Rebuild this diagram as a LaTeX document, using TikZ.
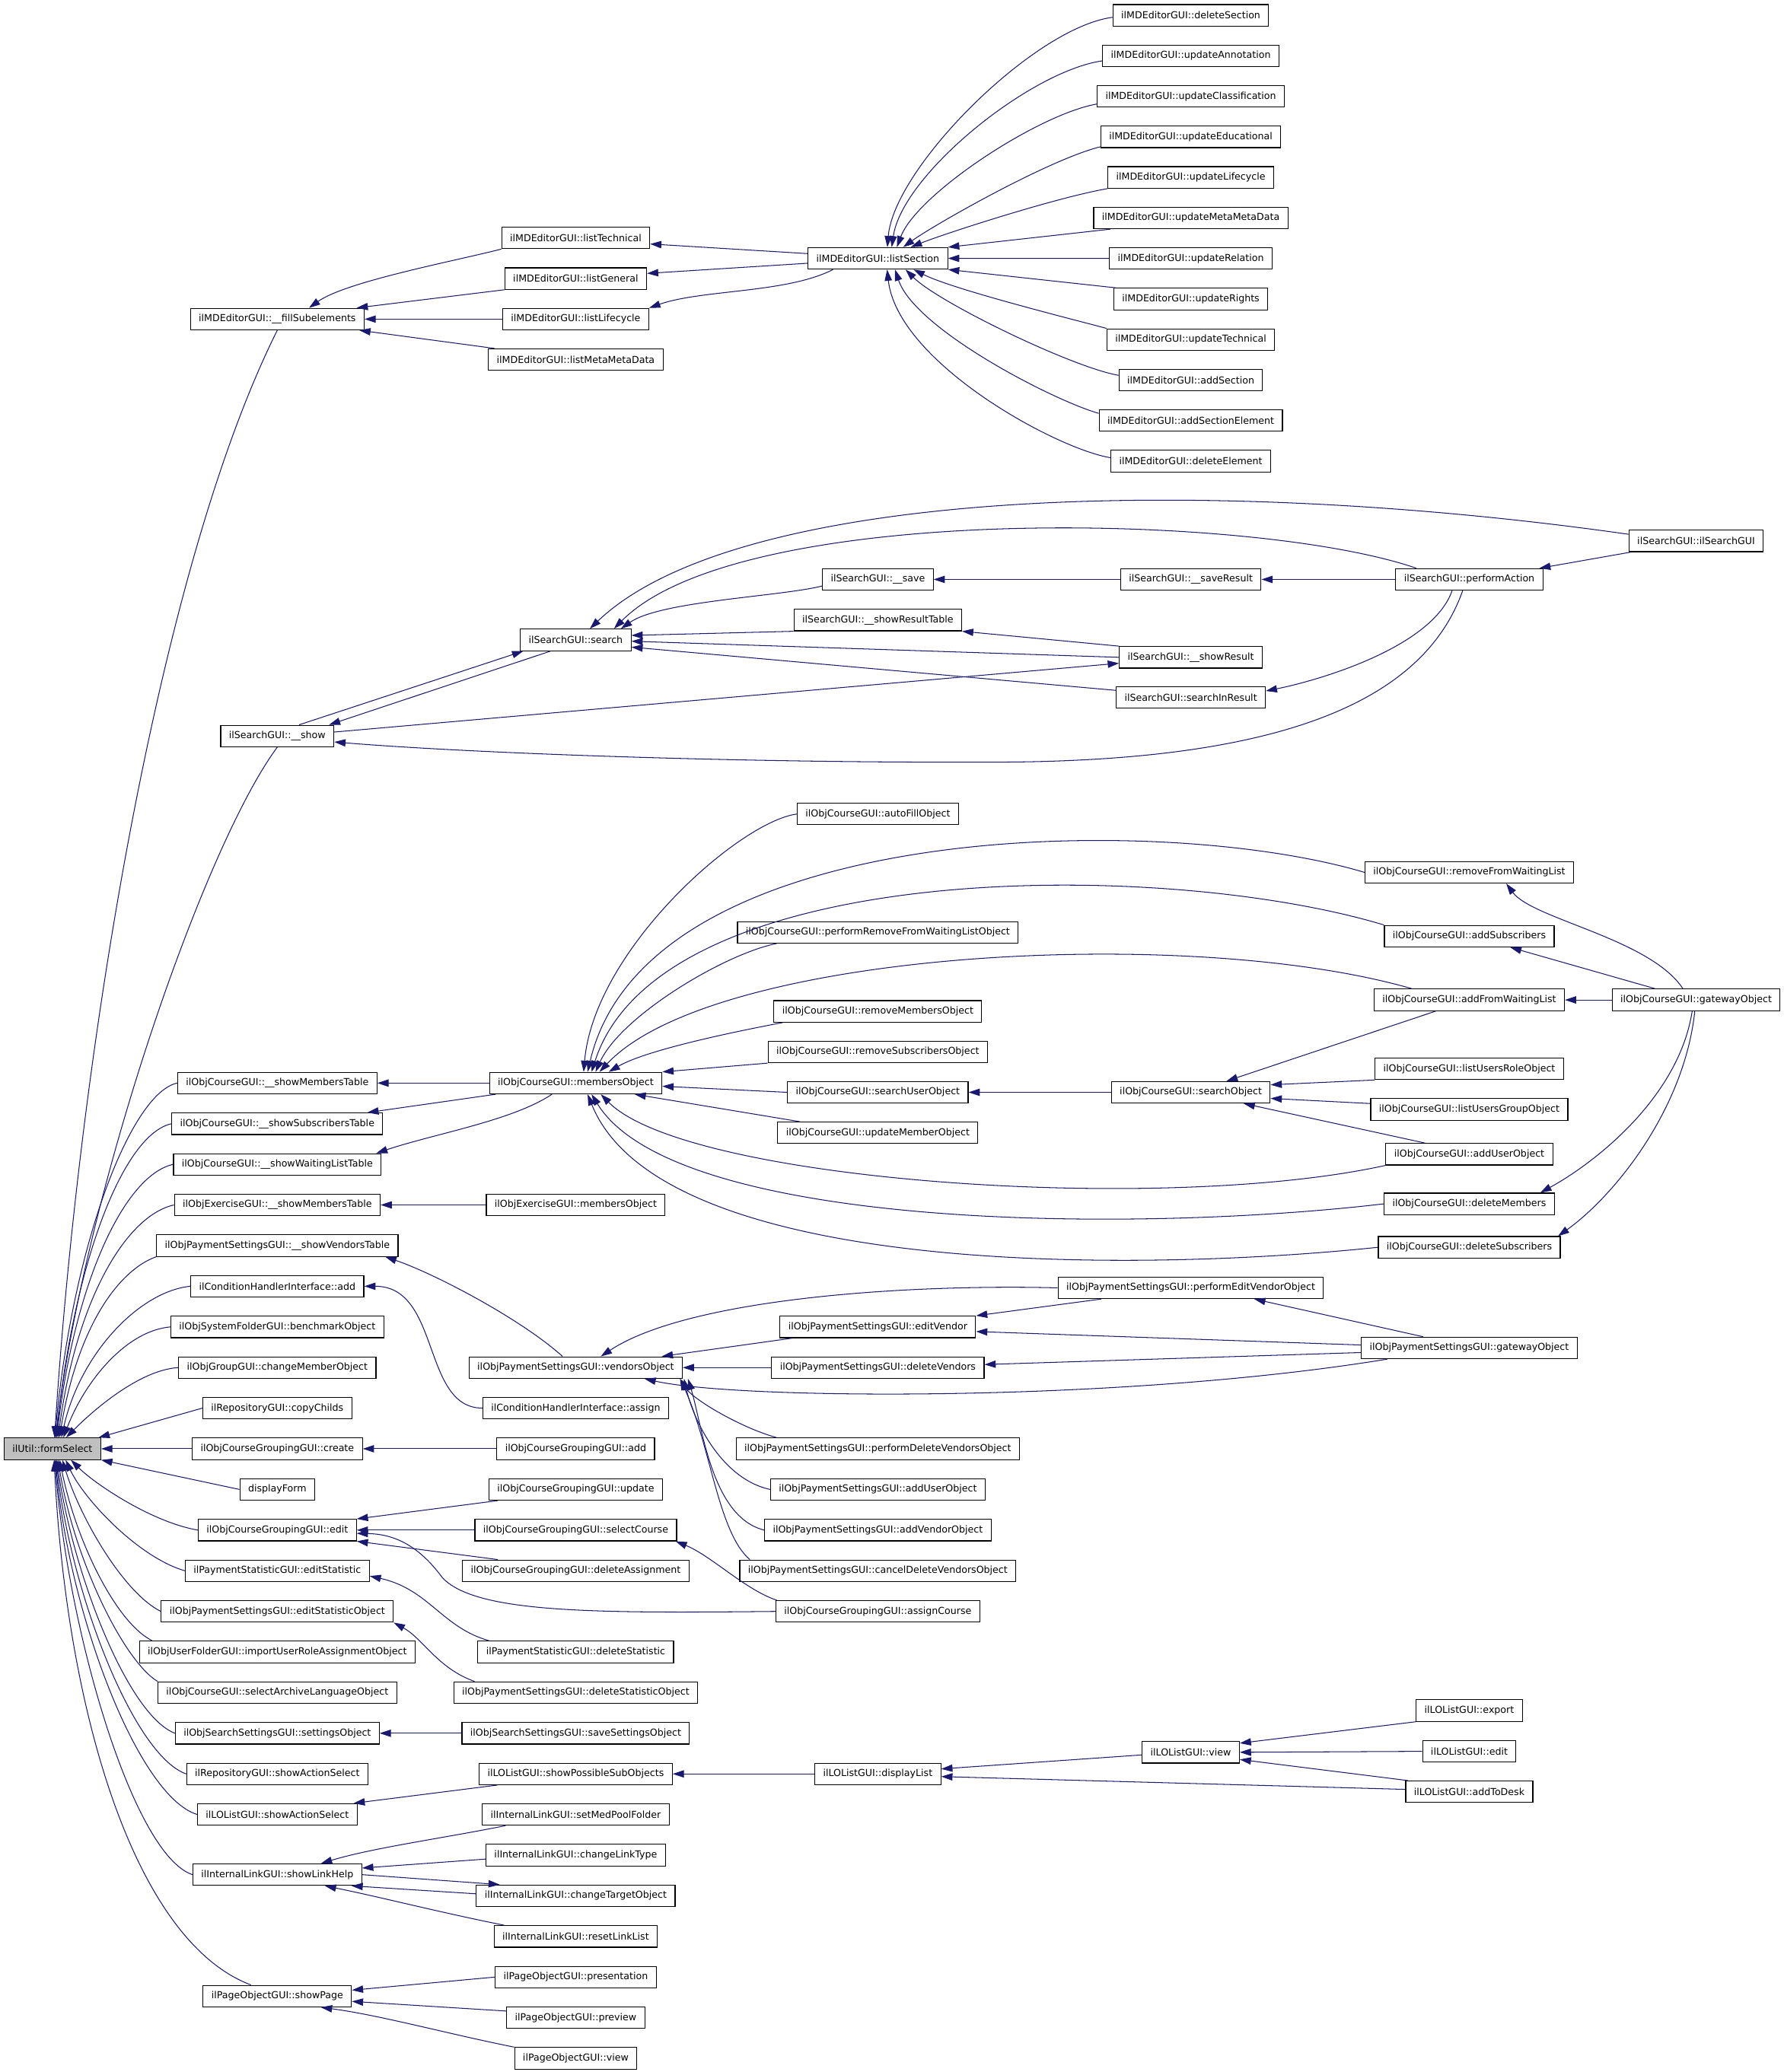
\documentclass[tikz,border=0pt]{standalone}
\usepackage{fontspec}
\setmainfont{DejaVu Sans}
\usetikzlibrary{arrows.meta,calc}
\definecolor{edgeblue}{RGB}{25,25,112}
\definecolor{rootgray}{RGB}{191,191,191}
\begin{document}
\begin{tikzpicture}[x=1pt,y=-1pt,
  fn/.style={draw=black,line width=0.65pt,fill=white,inner xsep=6.3pt,inner ysep=0pt,minimum height=16.3pt,font=\fontsize{7.27}{8.5}\selectfont},
  rootfn/.style={fn,fill=rootgray},
  cl/.style={draw=edgeblue,line width=0.6pt,-{Triangle[length=8.5pt,width=5.5pt]}}]
\fill[white] (0,0) rectangle (1351,1569.5);
\useasboundingbox (0,0) rectangle (1351,1569.5);
% ---------------- rank 0
\node[rootfn] (R) at (39.7,1097.4) {ilUtil::formSelect};
% ---------------- rank 1
\node[fn] (fS) at (210,241.7) {ilMDEditorGUI::\_\_fillSubelements};
\node[fn] (sh) at (210,557.5) {ilSearchGUI::\_\_show};
\node[fn] (sMT) at (210,820.4) {ilObjCourseGUI::\_\_showMembersTable};
\node[fn] (sST) at (210,851.2) {ilObjCourseGUI::\_\_showSubscribersTable};
\node[fn] (sWT) at (210,882) {ilObjCourseGUI::\_\_showWaitingListTable};
\node[fn] (eX) at (210,912.7) {ilObjExerciseGUI::\_\_showMembersTable};
\node[fn] (sVT) at (210,943.5) {ilObjPaymentSettingsGUI::\_\_showVendorsTable};
\node[fn] (cA) at (210,974.3) {ilConditionHandlerInterface::add};
\node[fn] (bO) at (210,1005.1) {ilObjSystemFolderGUI::benchmarkObject};
\node[fn] (cM) at (210,1035.9) {ilObjGroupGUI::changeMemberObject};
\node[fn] (cC) at (210,1066.6) {ilRepositoryGUI::copyChilds};
\node[fn] (cr) at (210,1097.4) {ilObjCourseGroupingGUI::create};
\node[fn] (dF) at (210,1128.2) {displayForm};
\node[fn] (ed) at (210,1159) {ilObjCourseGroupingGUI::edit};
\node[fn] (eS) at (210,1189.8) {ilPaymentStatisticGUI::editStatistic};
\node[fn] (eSO) at (210,1220.6) {ilObjPaymentSettingsGUI::editStatisticObject};
\node[fn] (iU) at (210,1251.3) {ilObjUserFolderGUI::importUserRoleAssignmentObject};
\node[fn] (sAL) at (210,1282.1) {ilObjCourseGUI::selectArchiveLanguageObject};
\node[fn] (sSO) at (210,1312.9) {ilObjSearchSettingsGUI::settingsObject};
\node[fn] (rSA) at (210,1343.7) {ilRepositoryGUI::showActionSelect};
\node[fn] (lSA) at (210,1374.4) {ilLOListGUI::showActionSelect};
\node[fn] (sLH) at (210,1420) {ilInternalLinkGUI::showLinkHelp};
\node[fn] (sP) at (210,1512) {ilPageObjectGUI::showPage};
% ---------------- rank 2
\node[fn] (lT) at (436,180.2) {ilMDEditorGUI::listTechnical};
\node[fn] (lG) at (436,211) {ilMDEditorGUI::listGeneral};
\node[fn] (lL) at (436,241.7) {ilMDEditorGUI::listLifecycle};
\node[fn] (lM) at (436,272.4) {ilMDEditorGUI::listMetaMetaData};
\node[fn] (se) at (436,484.7) {ilSearchGUI::search};
\node[fn] (mO) at (436,820.4) {ilObjCourseGUI::membersObject};
\node[fn] (eM) at (436,912.7) {ilObjExerciseGUI::membersObject};
\node[fn] (vO) at (436,1035.9) {ilObjPaymentSettingsGUI::vendorsObject};
\node[fn] (aCa) at (436,1066.6) {ilConditionHandlerInterface::assign};
\node[fn] (gA) at (436,1097.4) {ilObjCourseGroupingGUI::add};
\node[fn] (up) at (436,1128.2) {ilObjCourseGroupingGUI::update};
\node[fn] (sC) at (436,1159) {ilObjCourseGroupingGUI::selectCourse};
\node[fn] (dA) at (436,1189.8) {ilObjCourseGroupingGUI::deleteAssignment};
\node[fn] (dSt) at (436,1251.3) {ilPaymentStatisticGUI::deleteStatistic};
\node[fn] (dSO) at (436,1282.1) {ilObjPaymentSettingsGUI::deleteStatisticObject};
\node[fn] (sS) at (436,1312.9) {ilObjSearchSettingsGUI::saveSettingsObject};
\node[fn] (pSO) at (436,1343.7) {ilLOListGUI::showPossibleSubObjects};
\node[fn] (sMP) at (436,1374.4) {ilInternalLinkGUI::setMedPoolFolder};
\node[fn] (cLT) at (436,1405.2) {ilInternalLinkGUI::changeLinkType};
\node[fn] (cTO) at (436,1436) {ilInternalLinkGUI::changeTargetObject};
\node[fn] (rLL) at (436,1466.8) {ilInternalLinkGUI::resetLinkList};
\node[fn] (pr) at (436,1497.6) {ilPageObjectGUI::presentation};
\node[fn] (pv) at (436,1528.3) {ilPageObjectGUI::preview};
\node[fn] (pw) at (436,1559.1) {ilPageObjectGUI::view};
% ---------------- rank 3
\node[fn] (LS) at (664.8,195.7) {ilMDEditorGUI::listSection};
\node[fn] (sv) at (664.8,438.9) {ilSearchGUI::\_\_save};
\node[fn] (sRT) at (664.8,469.7) {ilSearchGUI::\_\_showResultTable};
\node[fn] (aF) at (664.8,616.6) {ilObjCourseGUI::autoFillObject};
\node[fn] (pR) at (664.8,706.2) {ilObjCourseGUI::performRemoveFromWaitingListObject};
\node[fn] (rM) at (664.8,766.1) {ilObjCourseGUI::removeMembersObject};
\node[fn] (rS) at (664.8,796.8) {ilObjCourseGUI::removeSubscribersObject};
\node[fn] (sU) at (664.8,827.4) {ilObjCourseGUI::searchUserObject};
\node[fn] (uM) at (664.8,858.1) {ilObjCourseGUI::updateMemberObject};
\node[fn] (eV) at (664.8,1005.1) {ilObjPaymentSettingsGUI::editVendor};
\node[fn] (dV) at (664.8,1035.9) {ilObjPaymentSettingsGUI::deleteVendors};
\node[fn] (pD) at (664.8,1097.4) {ilObjPaymentSettingsGUI::performDeleteVendorsObject};
\node[fn] (aU2) at (664.8,1128.2) {ilObjPaymentSettingsGUI::addUserObject};
\node[fn] (aV) at (664.8,1159) {ilObjPaymentSettingsGUI::addVendorObject};
\node[fn] (cD) at (664.8,1189.8) {ilObjPaymentSettingsGUI::cancelDeleteVendorsObject};
\node[fn] (aC) at (664.8,1220.6) {ilObjCourseGroupingGUI::assignCourse};
\node[fn] (dL) at (664.8,1343.7) {ilLOListGUI::displayList};
% ---------------- rank 4
\node[fn] (m0) at (901.8,11.6) {ilMDEditorGUI::deleteSection};
\node[fn] (m1) at (901.8,42.3) {ilMDEditorGUI::updateAnnotation};
\node[fn] (m2) at (901.8,73.0) {ilMDEditorGUI::updateClassification};
\node[fn] (m3) at (901.8,103.7) {ilMDEditorGUI::updateEducational};
\node[fn] (m4) at (901.8,134.4) {ilMDEditorGUI::updateLifecycle};
\node[fn] (m5) at (901.8,165.1) {ilMDEditorGUI::updateMetaMetaData};
\node[fn] (m6) at (901.8,195.8) {ilMDEditorGUI::updateRelation};
\node[fn] (m7) at (901.8,226.5) {ilMDEditorGUI::updateRights};
\node[fn] (m8) at (901.8,257.2) {ilMDEditorGUI::updateTechnical};
\node[fn] (m9) at (901.8,287.9) {ilMDEditorGUI::addSection};
\node[fn] (m10) at (901.8,318.6) {ilMDEditorGUI::addSectionElement};
\node[fn] (m11) at (901.8,349.3) {ilMDEditorGUI::deleteElement};
\node[fn] (sR) at (901.8,438.9) {ilSearchGUI::\_\_saveResult};
\node[fn] (shR) at (901.8,497.9) {ilSearchGUI::\_\_showResult};
\node[fn] (sIR) at (901.8,528.4) {ilSearchGUI::searchInResult};
\node[fn] (sO) at (901.8,827.4) {ilObjCourseGUI::searchObject};
\node[fn] (pE) at (901.8,975.5) {ilObjPaymentSettingsGUI::performEditVendorObject};
\node[fn] (lv) at (901.8,1327.3) {ilLOListGUI::view};
% ---------------- rank 5
\node[fn] (pA) at (1112.7,438.9) {ilSearchGUI::performAction};
\node[fn] (rW) at (1112.7,660.8) {ilObjCourseGUI::removeFromWaitingList};
\node[fn] (aS) at (1112.7,709.1) {ilObjCourseGUI::addSubscribers};
\node[fn] (aW) at (1112.7,757.4) {ilObjCourseGUI::addFromWaitingList};
\node[fn] (lR) at (1112.7,809.6) {ilObjCourseGUI::listUsersRoleObject};
\node[fn] (lU) at (1112.7,840.4) {ilObjCourseGUI::listUsersGroupObject};
\node[fn] (aU) at (1112.7,874.3) {ilObjCourseGUI::addUserObject};
\node[fn] (dM) at (1112.7,911.9) {ilObjCourseGUI::deleteMembers};
\node[fn] (dS) at (1112.7,944.8) {ilObjCourseGUI::deleteSubscribers};
\node[fn] (pG) at (1112.7,1021) {ilObjPaymentSettingsGUI::gatewayObject};
\node[fn] (ex) at (1112.7,1295.7) {ilLOListGUI::export};
\node[fn] (le) at (1112.7,1326.6) {ilLOListGUI::edit};
\node[fn] (aD) at (1112.7,1357.2) {ilLOListGUI::addToDesk};
% ---------------- rank 6
\node[fn] (sI) at (1284.5,409.7) {ilSearchGUI::ilSearchGUI};
\node[fn] (cG) at (1284.5,757.4) {ilObjCourseGUI::gatewayObject};

% ================= edges into root (upper)
\draw[cl] (fS.south) .. controls +(-90,180) and +(18.7,-289) .. ($(R.north)+(1.6,0)$);
\draw[cl] (sh.south) .. controls +(-55,74) and +(23,-189) .. ($(R.north)+(2.3,0)$);
\draw[cl] (sMT.west) .. controls +(-34,7) and +(14,-150) .. ($(R.north)+(1.8,0)$);
\draw[cl] (sST.west) .. controls +(-36,8) and +(14,-135) .. ($(R.north)+(2.8,0)$);
\draw[cl] (sWT.west) .. controls +(-36,8) and +(14,-120) .. ($(R.north)+(3.3,0)$);
\draw[cl] (eX.west) .. controls +(-36,8) and +(14,-105) .. ($(R.north)+(4.3,0)$);
\draw[cl] (sVT.south west) .. controls +(-28,10) and +(14,-85) .. ($(R.north)+(5.3,0)$);
\draw[cl] (cA.west) .. controls +(-39,4) and +(14,-63) .. ($(R.north)+(6.8,0)$);
\draw[cl] (bO.west) .. controls +(-34,3) and +(16,-42) .. ($(R.north)+(8.3,0)$);
\draw[cl] (cM.west) .. controls +(-30,2) and +(20,-20) .. ($(R.north)+(10.3,0)$);
\draw[cl] (cC.west) -- ($(R.north east)+(-2,0)$);
\draw[cl] (cr.west) -- (R.east);
\draw[cl] (dF.west) -- (R.south east);
% lower
\draw[cl] (ed.west) .. controls +(-35,-6) and +(18,18) .. ($(R.south)+(14,0)$);
\draw[cl] (eS.west) .. controls +(-35,-10) and +(14,30) .. ($(R.south)+(10,0)$);
\draw[cl] (eSO.west) .. controls +(-28,-14) and +(14,45) .. ($(R.south)+(7.5,0)$);
\draw[cl] ($(iU.north west)+(10,0)$) .. controls +(-28,-14) and +(12,60) .. ($(R.south)+(5.5,0)$);
\draw[cl] (sAL.north west) .. controls +(-26,-16) and +(12,75) .. ($(R.south)+(4.3,0)$);
\draw[cl] (sSO.west) .. controls +(-36,-14) and +(12,85) .. ($(R.south)+(3.3,0)$);
\draw[cl] (rSA.west) .. controls +(-40,-14) and +(11,100) .. ($(R.south)+(2.8,0)$);
\draw[cl] (lSA.west) .. controls +(-45,-14) and +(10,115) .. ($(R.south)+(2.3,0)$);
\draw[cl] (sLH.west) .. controls +(-45,-15) and +(10,130) .. ($(R.south)+(1.8,0)$);
\draw[cl] ($(sP.north)+(-20,0)$) .. controls +(-90,-34) and +(9,185) .. ($(R.south)+(1.3,0)$);

% ================= MD editor
\draw[cl] (lT.south west) .. controls +(-35,9) and +(28,-20) .. ($(fS.north)+(24,0)$);
\draw[cl] (lG.south west) -- ($(fS.north east)+(-6,0)$);
\draw[cl] (lL.west) -- (fS.east);
\draw[cl] ($(lM.north west)+(5,0)$) -- ($(fS.south east)+(-4,0)$);
\draw[cl] ($(LS.west)+(0,-3.6)$) -- ($(lT.east)+(0,4.6)$);
\draw[cl] ($(LS.west)+(0,3.7)$) -- ($(lG.east)+(0,-3.9)$);
\draw[cl] ($(LS.south)+(-34,0)$) .. controls +(-35,18) and +(40,-14) .. (lL.north east);
\draw[cl] ($(m0.west)+(0,1.5)$) .. controls +(-60,8) and +(5,-60) .. ($(LS.north)+(7.2,0)$);
\draw[cl] ($(m1.west)+(0,3.8)$) .. controls +(-55,8) and +(8,-55) .. ($(LS.north)+(10.5,0)$);
\draw[cl] ($(m2.west)+(0,5.8)$) .. controls +(-45,8) and +(15,-40) .. ($(LS.north)+(14.4,0)$);
\draw[cl] ($(m3.south west)+(0,-1)$) .. controls +(-40,10) and +(22,-16) .. ($(LS.north)+(19.2,0)$);
\draw[cl] (m4.south west) .. controls +(-40,7) and +(25,-10) .. ($(LS.north)+(24.9,0)$);
\draw[cl] ($(m5.south west)+(13,0)$) -- (LS.north east);
\draw[cl] (m6.west) -- (LS.east);
\draw[cl] ($(m7.north west)+(2,0)$) -- (LS.south east);
\draw[cl] (m8.north west) .. controls +(-30,-8) and +(30,15) .. ($(LS.south)+(27,0)$);
\draw[cl] ($(m9.west)+(0,-3.6)$) .. controls +(-35,-6) and +(25,25) .. ($(LS.south)+(21,0)$);
\draw[cl] ($(m10.west)+(0,-5.5)$) .. controls +(-35,-10) and +(15,45) .. ($(LS.south)+(13,0)$);
\draw[cl] ($(m11.west)+(0,-2.6)$) .. controls +(-42,-7) and +(8,70) .. ($(LS.south)+(7,0)$);

% ================= search
\draw[cl] ($(sI.west)+(0,-5)$) .. controls (920,360) and (560,368) .. ($(se.north)+(10.7,0)$);
\draw[cl] ($(pA.north west)+(16,0)$) .. controls (950,388) and (560,380) .. ($(se.north)+(29,0)$);
\draw[cl] ($(sv.west)+(0,5)$) .. controls +(-32,8) and +(30,-21) .. ($(se.north east)+(-8,0)$);
\draw[cl] (sRT.south west) -- ($(se.east)+(0,-3.4)$);
\draw[cl] (shR.west) -- ($(se.east)+(0,1)$);
\draw[cl] ($(sIR.north west)+(0,3)$) -- ($(se.south east)+(0,-3)$);
\draw[cl] ($(sh.north)+(16.5,0)$) -- ($(se.south west)+(2.5,0)$);
\draw[cl] ($(se.south)+(-19,0)$) -- ($(sh.north east)+(-4,0)$);
\draw[cl] ($(sh.east)+(0,-3)$) -- ($(shR.west)+(0,4.5)$);
\draw[cl] (shR.north west) -- (sRT.south east);
\draw[cl] (sR.west) -- (sv.east);
\draw[cl] (pA.west) -- (sR.east);
\draw[cl] ($(sI.south west)+(2,0)$) -- ($(pA.north east)+(-3,0)$);
\draw[cl] ($(pA.south)+(-13,0)$) .. controls +(-15,43) and +(40,-8) .. ($(sIR.east)+(0,-5)$);
\draw[cl] ($(pA.south)+(-5,0)$) .. controls (1075,540) and (950,577) .. (752.6,577.3) .. controls (550,578) and (350,570) .. ($(sh.east)+(0,4.5)$);

% ================= course
\draw[cl] (mO.west) -- (sMT.east);
\draw[cl] ($(mO.south west)+(5,0)$) -- ($(sST.north east)+(-12,0)$);
\draw[cl] ($(mO.south)+(-18,0)$) .. controls +(-30,20) and +(45,-15) .. ($(sWT.north east)+(-4,0)$);
\draw[cl] (eM.west) -- (eX.east);
\draw[cl] (aF.west) .. controls +(-44,6) and +(8,-92) .. ($(mO.north)+(6,0)$);
\draw[cl] (rW.west) .. controls (880,615) and (490,620) .. ($(mO.north)+(9,0)$);
\draw[cl] (aS.north west) .. controls (880,650) and (500,650) .. ($(mO.north)+(12,0)$);
\draw[cl] ($(pR.south west)+(30,0)$) .. controls +(-40,8) and +(19,-42) .. ($(mO.north)+(15,0)$);
\draw[cl] ($(aW.north west)+(29,0)$) .. controls (900,700) and (540,720) .. ($(mO.north)+(18,0)$);
\draw[cl] ($(rM.south west)+(7,0)$) .. controls +(-32,6) and +(29,-17) .. ($(mO.north)+(25,0)$);
\draw[cl] (rS.south west) -- (mO.north east);
\draw[cl] (sU.west) -- ($(mO.east)+(0,2.4)$);
\draw[cl] ($(uM.north west)+(17,0)$) -- ($(mO.south east)+(-21,0)$);
\draw[cl] (aU.south west) .. controls (880,920) and (520,895) .. ($(mO.south)+(19,0)$);
\draw[cl] (dM.west) .. controls (850,935) and (510,930) .. ($(mO.south)+(12,0)$);
\draw[cl] (dS.west) .. controls (850,965) and (500,965) .. ($(mO.south)+(9,0)$);
\draw[cl] (sO.west) -- (sU.east);
\draw[cl] ($(aW.south west)+(47,0)$) -- ($(sO.north)+(27,0)$);
\draw[cl] (lR.south west) -- ($(sO.east)+(0,-5.7)$);
\draw[cl] ($(lU.west)+(0,-4.5)$) -- ($(sO.east)+(0,4.6)$);
\draw[cl] ($(aU.north west)+(30,0)$) -- ($(sO.south)+(40,0)$);
\draw[cl] ($(cG.north)+(-10,0)$) .. controls +(-25,-38) and +(20,27) .. ($(rW.south)+(28,0)$);
\draw[cl] ($(cG.north west)+(33,0)$) -- ($(aS.south)+(31,0)$);
\draw[cl] (cG.west) -- (aW.east);
\draw[cl] ($(cG.south)+(-3,0)$) .. controls +(-10,65) and +(42,-23) .. ($(dM.north east)+(-11,0)$);
\draw[cl] ($(cG.south)+(-1,0)$) .. controls +(-8,75) and +(42,-30) .. ($(dS.north east)+(-2,0)$);

% ================= payment
\draw[cl] ($(vO.north)+(-10,0)$) .. controls +(-31,-28) and +(38,13) .. ($(sVT.south east)+(-10,0)$);
\draw[cl] (aCa.west) .. controls +(-46,0) and +(58,0) .. (cA.east);
\draw[cl] (pE.west) .. controls +(-120,-3) and +(65,-43) .. ($(vO.north)+(19,0)$);
\draw[cl] ($(eV.south west)+(10,0)$) -- ($(vO.north east)+(-16,0)$);
\draw[cl] (dV.west) -- (vO.east);
\draw[cl] ($(pG.south west)+(20,0)$) .. controls +(-201,33) and +(72,16) .. ($(vO.south east)+(-29,0)$);
\draw[cl] ($(pD.north west)+(31,0)$) .. controls +(-26,-7) and +(10,16) .. ($(vO.south)+(79,0)$);
\draw[cl] (aU2.west) .. controls +(-37,-8) and +(7,31) .. ($(vO.south)+(82,0)$);
\draw[cl] (aV.west) .. controls +(-40,-10) and +(11,36) .. ($(vO.south)+(85,0)$);
\draw[cl] ($(cD.north west)+(8,0)$) .. controls +(-24,-20) and +(23,50) .. ($(vO.south)+(79,0)$);
\draw[cl] ($(pE.south west)+(33,0)$) -- (eV.north east);
\draw[cl] ($(pG.west)+(0,-2.2)$) -- ($(eV.east)+(0,3.5)$);
\draw[cl] ($(pG.west)+(0,3.5)$) -- ($(dV.east)+(0,-2.3)$);
\draw[cl] ($(pG.north)+(-35,0)$) -- ($(pE.south)+(48,0)$);

% ================= grouping / statistics / settings
\draw[cl] (gA.west) -- (cr.east);
\draw[cl] ($(up.south west)+(7,0)$) -- (ed.north east);
\draw[cl] (sC.west) -- (ed.east);
\draw[cl] ($(dA.north west)+(27,0)$) -- (ed.south east);
\draw[cl] (aC.west) .. controls (450,1222) and (360,1222) .. (335,1195) .. controls (318,1172) and (300,1162) .. ($(ed.east)+(0,2.5)$);
\draw[cl] ($(aC.north west)+(1,0)$) .. controls +(-24,-8) and +(27,11) .. ($(sC.south east)+(-1,0)$);
\draw[cl] ($(dSt.north west)+(9,0)$) .. controls +(-36,-10) and +(45,10) .. ($(eS.east)+(0,4)$);
\draw[cl] ($(dSO.north west)+(16,0)$) .. controls +(-28,-10) and +(22,12) .. (eSO.south east);
\draw[cl] (sS.west) -- (sSO.east);

% ================= LO list
\draw[cl] ($(pSO.south west)+(14,0)$) -- ($(lSA.north east)+(-3,0)$);
\draw[cl] (dL.west) -- (pSO.east);
\draw[cl] ($(lv.west)+(0,2)$) -- ($(dL.east)+(0,-3.8)$);
\draw[cl] ($(aD.west)+(0,-1.8)$) -- ($(dL.east)+(0,2)$);
\draw[cl] (ex.south west) -- ($(lv.north east)+(0,1.6)$);
\draw[cl] (le.west) -- (lv.east);
\draw[cl] ($(aD.north west)+(2,0)$) -- ($(lv.south east)+(0,-3)$);

% ================= internal link
\draw[cl] ($(sMP.south west)+(18,0)$) .. controls +(-50,10) and +(40,-12) .. ($(sLH.north)+(33,0)$);
\draw[cl] ($(cLT.west)+(0,3)$) -- ($(sLH.east)+(0,-5)$);
\draw[cl] (sLH.east) -- ($(cTO.north west)+(18,0)$);
\draw[cl] ($(cTO.west)+(0,-1.5)$) -- ($(sLH.south east)+(-8,0)$);
\draw[cl] ($(rLL.north west)+(8,0)$) .. controls +(-50,-10) and +(40,8) .. ($(sLH.south)+(36,0)$);

% ================= page object
\draw[cl] (pr.west) -- ($(sP.east)+(0,-4.5)$);
\draw[cl] ($(pv.west)+(0,-5)$) -- ($(sP.east)+(0,4)$);
\draw[cl] (pw.north west) .. controls +(-50,-10) and +(45,6) .. ($(sP.south)+(33,0)$);
\end{tikzpicture}
\end{document}
